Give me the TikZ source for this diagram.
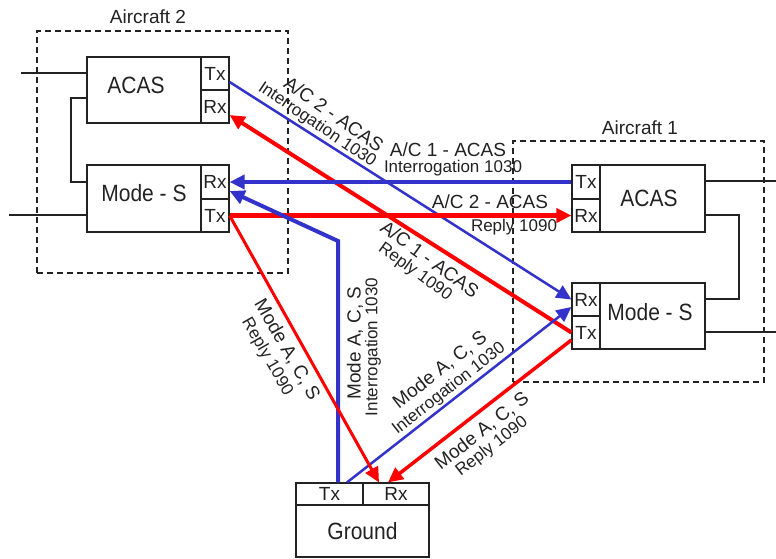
\documentclass[tikz,border=0pt]{standalone}
\usepackage{fontspec}
\usepackage{graphicx}
\setmainfont{Liberation Sans}
\usetikzlibrary{arrows.meta}
\definecolor{sigblue}{RGB}{51,51,204}
\definecolor{sigred}{RGB}{255,0,0}
\definecolor{ink}{RGB}{34,34,34}
\newcommand{\tallt}[1]{\scalebox{1}[1.12]{#1}}
\begin{document}
\begin{tikzpicture}[x=1pt,y=-1pt,
  mainbox/.style={draw=ink,line width=1.2pt,rectangle,inner sep=0pt,text=ink,font=\fontsize{21}{21}\selectfont},
  cellbox/.style={draw=ink,line width=1.2pt,rectangle,inner sep=0pt,text=ink,font=\fontsize{19}{19}\selectfont,minimum width=28pt},
  acframe/.style={draw=ink,line width=1.5pt,dash pattern=on 6pt off 4pt,rectangle,inner sep=0pt},
  wire/.style={draw=ink,line width=1.2pt},
  lbl/.style={text=ink,inner sep=0pt,font=\fontsize{19}{19}\selectfont},
  sublbl/.style={text=ink,inner sep=0pt,font=\fontsize{17}{17}\selectfont},
  sig/.style={line width=#1,-{Triangle[length=15pt,width=14pt]}},
  bluesig/.style={sig=#1,draw=sigblue},
  redsig/.style={sig=#1,draw=sigred}]
\useasboundingbox (0,0) rectangle (776,558);

% aircraft frames
\node[acframe,minimum width=251pt,minimum height=242pt] (ac2) at (162.5,152) {};
\node[acframe,minimum width=251pt,minimum height=241pt] (ac1) at (638.5,261.5) {};
\node[lbl] (ac2t) at (148,17) {Aircraft 2};
\node[lbl] (ac1t) at (640,128) {Aircraft 1};

% aircraft 2
\node[mainbox,minimum width=114pt,minimum height=66pt] (a2acas) at (144,90) {\hspace*{-16pt}\raisebox{10pt}{\tallt{ACAS}}};
\node[cellbox,minimum height=33pt] (a2acastx) at (215,73.5) {Tx};
\node[cellbox,minimum height=33pt] (a2acasrx) at (215,106.5) {Rx};
\node[mainbox,minimum width=114pt,minimum height=67pt] (a2ms) at (144,198.5) {\raisebox{11pt}{\tallt{Mode - S}}};
\node[cellbox,minimum height=34pt] (a2msrx) at (215,182) {Rx};
\node[cellbox,minimum height=33pt] (a2mstx) at (215,215.5) {Tx};

% aircraft 1
\node[mainbox,minimum width=105pt,minimum height=67pt] (a1acas) at (652.5,198.5) {\hspace*{-7pt}\tallt{ACAS}};
\node[cellbox,minimum height=34pt] (a1acastx) at (586,182) {Tx};
\node[cellbox,minimum height=33pt] (a1acasrx) at (586,215.5) {Rx};
\node[mainbox,minimum width=105pt,minimum height=66pt] (a1ms) at (652.5,316) {\hspace*{-5pt}\raisebox{8pt}{\tallt{Mode - S}}};
\node[cellbox,minimum height=33pt] (a1msrx) at (586,299.5) {Rx};
\node[cellbox,minimum height=33pt] (a1mstx) at (586,332.5) {Tx};

% ground
\node[mainbox,minimum width=133pt,minimum height=52pt] (gnd) at (362.5,531) {\tallt{Ground}};
\node[cellbox,minimum width=67pt,minimum height=22pt] (gtx) at (329.5,494) {Tx};
\node[cellbox,minimum width=66pt,minimum height=22pt] (grx) at (396,494) {Rx};

% wires
\coordinate (s1) at (21,73);
\coordinate (s2) at (9,215);
\coordinate (s3) at (776,181);
\coordinate (s4) at (776,332);
\coordinate (k1) at (71,98);
\coordinate (k2) at (71,182);
\coordinate (k3) at (739,215);
\coordinate (k4) at (739,299);
\draw[wire] (s1) -- (s1 -| a2acas.west);
\draw[wire] (s2) -- (s2 -| a2ms.west);
\draw[wire] (s3 -| a1acas.east) -- (s3);
\draw[wire] (s4 -| a1ms.east) -- (s4);
\draw[wire] (k1 -| a2acas.west) -- (k1) -- (k2) -- (k2 -| a2ms.west);
\draw[wire] (k3 -| a1acas.east) -- (k3) -- (k4) -- (k4 -| a1ms.east);

% signals
\coordinate (b3bend) at (338,241);
\draw[bluesig=2.5pt] ([yshift=-8.5pt]a2acastx.east) -- (a1msrx.west);
\draw[redsig=4pt] (a1mstx.west) -- ([yshift=-8.5pt]a2acasrx.east);
\draw[bluesig=4.5pt] (a1acastx.west) -- (a2msrx.east);
\draw[redsig=4.5pt] (a2mstx.east) -- (a1acasrx.west);
\draw[bluesig=4pt] ([xshift=8.5pt]gtx.north) -- (b3bend) -- ([yshift=-9pt]a2msrx.east);
\draw[bluesig=2.5pt] ([xshift=17.5pt]gtx.north) -- ([yshift=-7.5pt]a1msrx.west);
\draw[redsig=3pt] (a2mstx.east) -- ([xshift=-17pt]grx.north);
\draw[redsig=3.5pt] ([yshift=-7.5pt]a1mstx.west) -- ([xshift=-8pt]grx.north);

% labels
\node[lbl,rotate=-35] (l1a) at (334,114) {A/C 2 - ACAS};
\node[sublbl,rotate=-34] (l1b) at (317,125) {Interrogation 1030};
\node[lbl] (l2a) at (448,150) {A/C 1 - ACAS};
\node[sublbl] (l2b) at (453,168) {Interrogation 1030};
\node[lbl] (l3a) at (490,202) {A/C 2 - ACAS};
\node[sublbl] (l3b) at (514,227) {Reply 1090};
\node[lbl,rotate=-36] (l4a) at (430,259) {A/C 1 - ACAS};
\node[sublbl,rotate=-36] (l4b) at (415,272) {Reply 1090};
\node[lbl,rotate=-60] (l5a) at (287,350) {Mode A, C, S};
\node[sublbl,rotate=-60] (l5b) at (267,357) {Reply 1090};
\node[lbl,rotate=90] (l6a) at (355,343) {Mode A, C, S};
\node[sublbl,rotate=90] (l6b) at (373,347) {Interrogation 1030};
\node[lbl,rotate=38] (l7a) at (440,370) {Mode A, C, S};
\node[sublbl,rotate=38] (l7b) at (449,389) {Interrogation 1030};
\node[lbl,rotate=38] (l8a) at (482,431) {Mode A, C, S};
\node[sublbl,rotate=38] (l8b) at (492,447) {Reply 1090};
\end{tikzpicture}
\end{document}
